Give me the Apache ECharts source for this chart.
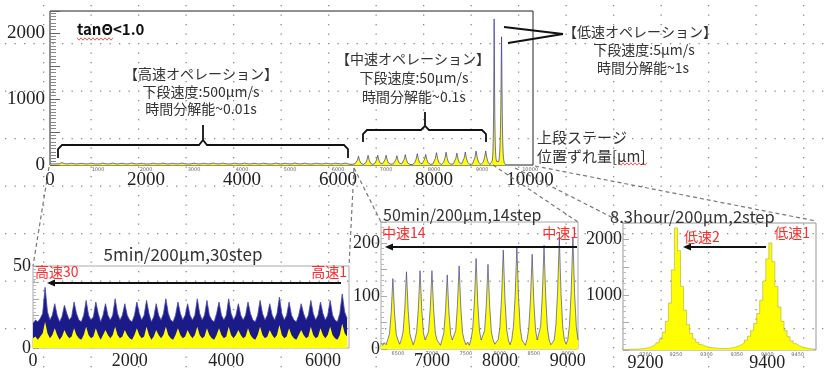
<!DOCTYPE html>
<html><head><meta charset="utf-8">
<script src="https://cdn.jsdelivr.net/npm/echarts@6/dist/echarts.min.js"></script>
<style>
html,body{margin:0;padding:0;background:#fff;}
#c{width:826px;height:372px;}
</style></head>
<body><div id="c"></div>
<script>
// ---------- data ----------
// high-speed operation (bins of 50 from 0): upper envelope (blue) and lower envelope (yellow)
const highStart = 0, highStep = 50;
const highUpper = [15,17,16,18,21,37,22,17,20,27,20,16,19,26,21,17,19,28,21,17,
 16,20,29,20,17,19,28,21,16,20,27,20,17,20,30,21,17,20,27,20,
 17,16,20,28,21,17,20,29,21,16,19,27,20,17,21,30,21,17,16,20,
 28,21,17,20,27,20,17,20,30,21,17,20,29,20,17,16,21,28,20,17,
 20,30,21,17,20,27,20,17,20,28,21,17,16,20,29,21,17,20,27,20,
 17,21,31,21,17,20,28,20,17,16,20,27,21,17,20,29,21,17,20,28,
 21,17,20,29,20,17,16,21,33,22,18];
const highLower = [6,7,5,7,9,16,9,6,8,12,8,5,7,11,8,6,7,12,8,6,
 5,8,13,8,6,7,12,8,5,8,11,8,6,8,13,8,6,7,11,8,
 6,5,8,12,8,6,7,13,8,5,7,11,8,6,8,13,8,6,5,8,
 12,8,6,7,11,8,6,8,13,8,6,7,12,8,6,5,8,12,8,6,
 7,13,8,6,8,11,8,6,7,12,8,6,5,8,13,8,6,7,11,8,
 6,8,14,8,6,7,12,8,6,5,8,11,8,6,7,13,8,6,7,12,
 8,6,8,13,8,6,5,8,15,9,7];
// middle-speed operation (bins of 25 from 6250)
const midStart = 6250, midStep = 25;
const midCounts = [11,7,12,8,18,29,69,133,66,27,
 17,9,18,32,76,146,73,29,17,8,
 18,33,77,148,74,30,17,18,33,77,
 148,74,30,17,12,7,18,31,73,140,
 70,28,17,18,35,82,157,78,31,17,
 8,13,7,18,38,89,171,85,34,17,
 18,35,83,160,80,32,17,9,12,18,
 41,97,187,93,37,17,8,18,43,101,
 194,97,39,17,12,7,18,39,93,179,
 89,36,17,18,43,102,196,98,39,17,
 8,12,18,46,109,210,105,42,17,9,
 18,46,110,211,105,42,17];
// low-speed operation (bins of 5 from 9160)
const lowStart = 9160, lowStep = 5;
const lowCounts = [8,9,10,12,14,16,20,24,30,40,
 60,85,130,200,320,520,850,1450,2210,1800,
 1150,720,460,300,200,140,100,75,55,45,
 38,32,28,27,28,32,40,52,70,95,
 130,180,250,350,480,660,900,1250,1650,1940,
 1600,1150,780,520,350,240,165,115,80,55,
 40,30,22,17,13];

// tick labels
const mainXTicks = [0,2000,4000,6000,8000,10000];
const mainXSmall = [1000,2000,3000,4000,5000,6000,7000,8000,9000,10000];
const mainYTicks = [0,1000,2000];
const highXTicks = [0,2000,4000,6000];
const highYTicks = [0,50];
const midXTicks = [7000,8000,9000];
const midXSmall = [6500,7000,7500,8000,8500,9000];
const midYTicks = [0,100,200];
const lowXTicks = [9200,9400];
const lowXSmall = [9200,9250,9300,9350,9400,9450];
const lowYTicks = [1000,2000];

// ---------- build ----------
const pts = (start, step, arr) => arr.map((v,i)=>[start+step*i, v]);
const highUpPts = pts(highStart, highStep, highUpper);
const highLoPts = pts(highStart, highStep, highLower);
const midPts = pts(midStart, midStep, midCounts);
const lowPts = pts(lowStart, lowStep, lowCounts);
const mainPts = highUpPts.filter(p=>p[0]<midStart).concat(midPts).concat(lowPts);

// dotted background grid (decoration, like a slide grid)
(function(){
  let s = '<svg xmlns="http://www.w3.org/2000/svg" width="95" height="95">';
  for (let k=0;k<10;k++) {
    const v = (k*9.5).toFixed(1);
    s += '<rect x="'+v+'" y="0" width="1.3" height="1.3" fill="#8a8a8a"/>';
    s += '<rect x="'+v+'" y="47.5" width="1.3" height="1.3" fill="#8a8a8a"/>';
    if (k%5) {
      s += '<rect x="0" y="'+v+'" width="1.3" height="1.3" fill="#8a8a8a"/>';
      s += '<rect x="47.5" y="'+v+'" width="1.3" height="1.3" fill="#8a8a8a"/>';
    }
  }
  s += '</svg>';
  const el = document.getElementById('c');
  el.style.backgroundImage = 'url("data:image/svg+xml;utf8,'+encodeURIComponent(s)+'")';
  el.style.backgroundPosition = '43px 43px';
})();

const SERIF = 'Liberation Serif';
const JP = '"Noto Sans CJK JP"';
const fmt = v => String(v);
const numLabel = (size, margin, vals) => ({show:true, fontFamily:SERIF, fontSize:size, color:'#222', margin:margin, customValues:vals, formatter:fmt});
const tinyLabel = (vals) => ({show:true, fontFamily:'DejaVu Sans', fontSize:5, color:'#666', margin:2, customValues:vals, formatter:fmt});

const xAxes = [
  {gridIndex:0, type:'value', position:'bottom', min:0, max:10060, axisLine:{show:false}, axisTick:{show:false}, splitLine:{show:false}, axisLabel:numLabel(19,6,mainXTicks)},
  {gridIndex:0, type:'value', position:'bottom', min:0, max:10060, axisLine:{show:false}, axisTick:{show:false}, splitLine:{show:false}, axisLabel:tinyLabel(mainXSmall)},
  {gridIndex:1, type:'value', position:'bottom', min:0, max:6540, axisLine:{show:false}, axisTick:{show:false}, splitLine:{show:false}, axisLabel:numLabel(18,4,highXTicks)},
  {gridIndex:2, type:'value', position:'bottom', min:6250, max:9150, axisLine:{show:false}, axisTick:{show:false}, splitLine:{show:false}, axisLabel:numLabel(18,3,midXTicks)},
  {gridIndex:2, type:'value', position:'bottom', min:6250, max:9150, axisLine:{show:false}, axisTick:{show:false}, splitLine:{show:false}, axisLabel:tinyLabel(midXSmall)},
  {gridIndex:3, type:'value', position:'bottom', min:9163, max:9480, axisLine:{show:false}, axisTick:{show:false}, splitLine:{show:false}, axisLabel:numLabel(18,4,lowXTicks)},
  {gridIndex:3, type:'value', position:'bottom', min:9163, max:9480, axisLine:{show:false}, axisTick:{show:false}, splitLine:{show:false}, axisLabel:tinyLabel(lowXSmall)}
];
const yTick = (len, col) => ({show:true, inside:true, length:len, lineStyle:{color:col, width:1}});
const yMinor = (n, len, col) => ({show:true, splitNumber:n, length:len, lineStyle:{color:col, width:1}});
const yAxes = [
  {gridIndex:0, type:'value', min:0, max:2330, interval:500, axisLine:{show:false}, axisTick:yTick(10,'#666'), minorTick:yMinor(10,6,'#888'), splitLine:{show:false}, axisLabel:numLabel(19,5,mainYTicks)},
  {gridIndex:1, type:'value', min:0, max:50, interval:10, axisLine:{show:false}, axisTick:yTick(6,'#aaa'), minorTick:yMinor(5,3,'#bbb'), splitLine:{show:false}, axisLabel:numLabel(18,2,highYTicks)},
  {gridIndex:2, type:'value', min:0, max:240, interval:50, axisLine:{show:false}, axisTick:yTick(6,'#aaa'), minorTick:yMinor(5,3,'#bbb'), splitLine:{show:false}, axisLabel:numLabel(18,1,midYTicks)},
  {gridIndex:3, type:'value', min:0, max:2300, interval:500, axisLine:{show:false}, axisTick:yTick(6,'#aaa'), minorTick:yMinor(5,3,'#bbb'), splitLine:{show:false}, axisLabel:numLabel(18,1,lowYTicks)}
];

const YEL = '#ffff00';
const series = [
  {type:'line', xAxisIndex:0, yAxisIndex:0, data:mainPts, showSymbol:false, symbol:'none', areaStyle:{color:YEL, opacity:1}, lineStyle:{color:'rgba(30,30,160,0.7)', width:0.9}},
  {type:'line', xAxisIndex:2, yAxisIndex:1, data:highUpPts, showSymbol:false, symbol:'none', areaStyle:{color:'#1a1a88', opacity:1}, lineStyle:{color:'rgba(70,70,180,0.8)', width:1}},
  {type:'line', xAxisIndex:2, yAxisIndex:1, data:highLoPts, showSymbol:false, symbol:'none', areaStyle:{color:YEL, opacity:1}, lineStyle:{width:0, opacity:0}},
  {type:'line', xAxisIndex:3, yAxisIndex:2, data:midPts, showSymbol:false, symbol:'none', areaStyle:{color:YEL, opacity:1}, lineStyle:{color:'rgba(40,40,160,0.6)', width:1}},
  {type:'line', xAxisIndex:5, yAxisIndex:3, data:lowPts, step:'middle', showSymbol:false, symbol:'none', areaStyle:{color:YEL, opacity:1}, lineStyle:{color:'rgba(150,150,60,0.6)', width:0.8}}
];

// ---------- annotations ----------
const T = (text, x, y, o) => ({type:'text', x:x, y:y, z:100, style:Object.assign({text:text, fill:'#333', font:'14px '+JP, align:'center', verticalAlign:'middle'}, o||{})});
const RED = '#ff2a2a';
const L = (x1,y1,x2,y2,o) => ({type:'line', z:90, shape:{x1,y1,x2,y2}, style:Object.assign({stroke:'#111', lineWidth:1.8}, o||{})});
const P = (points, o) => ({type:'polyline', z:90, shape:{points}, style:Object.assign({stroke:'#111', lineWidth:1.8, fill:null}, o||{})});
const arrow = (x1, x2, y) => [L(x1,y,x2+6,y,{lineWidth:1.8}), {type:'polygon', z:91, shape:{points:[[x2,y],[x2+8,y-3.5],[x2+8,y+3.5]]}, style:{fill:'#111'}}];
const dash = (x1,y1,x2,y2) => L(x1,y1,x2,y2,{stroke:'#777', lineWidth:1.2, lineDash:[4,3]});
const squiggle = (x1, x2, y) => { const p=[]; for (let x=x1, k=0; x<=x2; x+=2, k++) p.push([x, y+(k%2?1.2:-1.2)]); return P(p,{stroke:'#e33', lineWidth:0.8}); };

const graphics = [
  T('tanΘ<1.0', 77, 29, {align:'left', font:'bold 15px '+JP, fill:'#111'}),
  squiggle(77, 113, 39),
  T('【高速オペレーション】', 201, 74),
  T('下段速度:500μm/s', 201, 92),
  T('時間分解能~0.01s', 201, 109),
  T('【中速オペレーション】', 413, 59),
  T('下段速度:50μm/s', 414, 78),
  T('時間分解能~0.1s', 414, 97),
  T('【低速オペレーション】', 640, 32),
  T('下段速度:5μm/s', 644, 50),
  T('時間分解能~1s', 643, 68),
  T('上段ステージ', 537, 137, {align:'left', font:'15px '+JP}),
  T('位置ずれ量[μm]', 537, 156, {align:'left', font:'15px '+JP}),
  squiggle(619, 647, 164),
  P([[58,158],[58,149],[62,145],[199,145],[203,140],[203,125],[203,140],[207,145],[344,145],[348,149],[348,158]]),
  P([[363,142],[363,134],[367,130],[421,130],[425,126],[425,112],[425,126],[429,130],[482,130],[486,134],[486,142]]),
  L(504,27,563,34), L(508,43,563,34),
  dash(49,167,33,266), dash(354,168,349,266), dash(354,168,381,222),
  dash(493,165,578,222), dash(515,168,623,223), dash(535,166,816,221),
  T('5min/200μm,30step', 183, 255, {font:'17px '+JP}),
  T('50min/200μm,14step', 383, 215, {align:'left', font:'16px '+JP}),
  T('8.3hour/200μm,2step', 610, 217, {align:'left', font:'16.5px '+JP}),
  T('高速30', 35, 272, {align:'left', fill:RED}),
  T('高速1', 347, 272, {align:'right', fill:RED}),
  T('中速14', 382, 233, {align:'left', fill:RED}),
  T('中速1', 578, 233, {align:'right', fill:RED}),
  T('低速2', 684, 237, {align:'left', fill:RED}),
  T('低速1', 810, 233, {align:'right', fill:RED})
].concat(arrow(341,47,283), arrow(577,385,247), arrow(766,683,247));

const chart = echarts.init(document.getElementById('c'), null, {renderer:'canvas'});
chart.setOption({
  animation:false,
  backgroundColor:'transparent',
  grid:[
    {left:50, top:11, width:483, height:154, show:true, borderColor:'#222', borderWidth:1, backgroundColor:'transparent'},
    {left:33, top:266, width:316, height:82, show:true, borderColor:'#aaa', borderWidth:1},
    {left:381, top:222, width:197, height:127, show:true, borderColor:'#aaa', borderWidth:1},
    {left:623, top:223, width:193, height:127, show:true, borderColor:'#999', borderWidth:1}
  ],
  xAxis:xAxes,
  yAxis:yAxes,
  series:series,
  graphic:graphics
});
</script>
</body></html>
